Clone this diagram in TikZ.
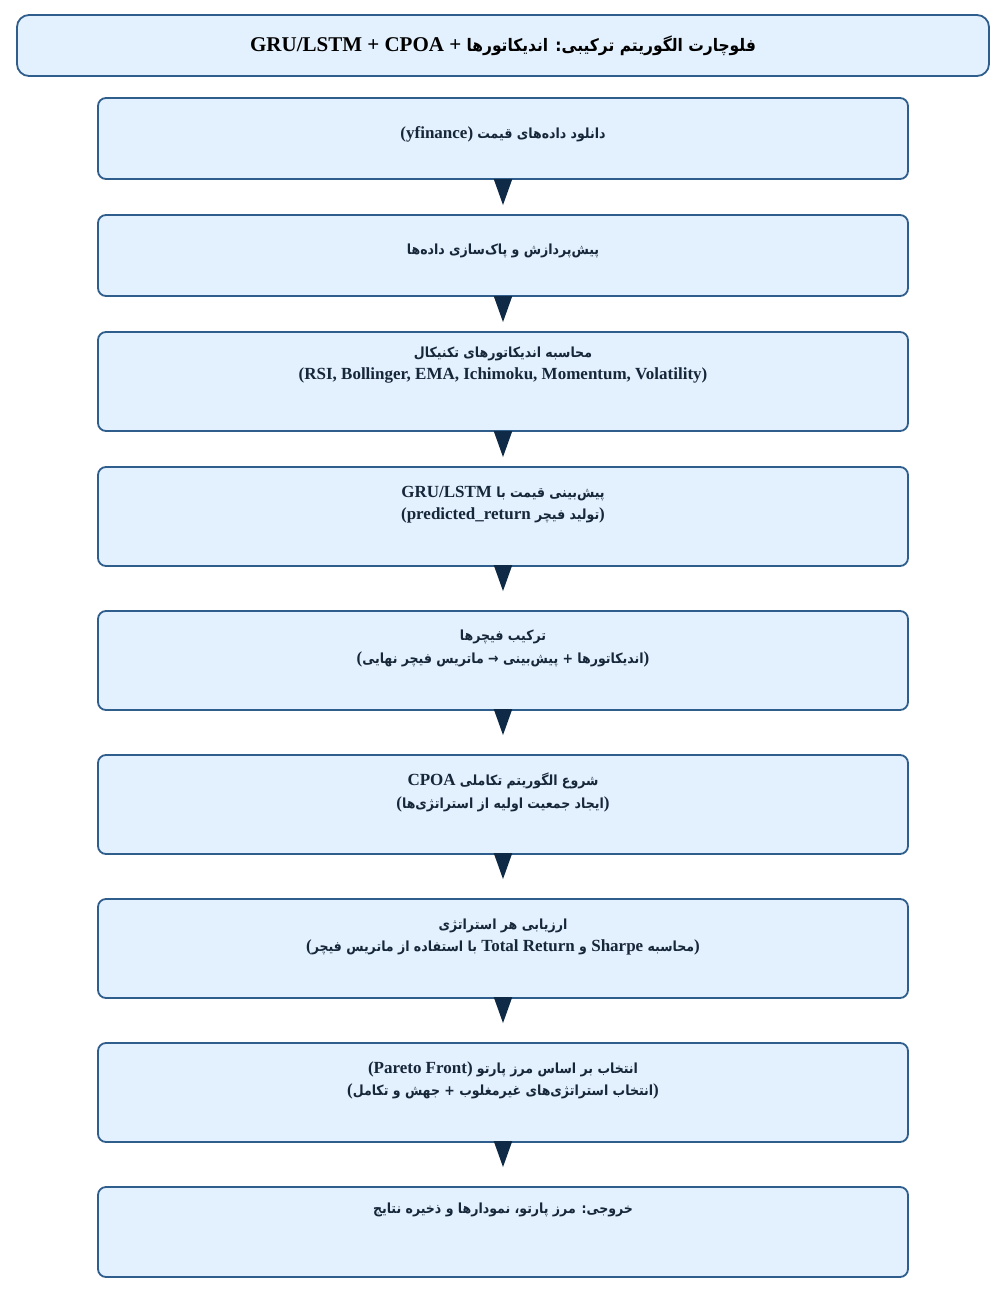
\documentclass[tikz,border=0pt]{standalone}
\usepackage{fontspec}
\setmainfont{Liberation Serif}
\newfontfamily\farsifont[Script=Arabic,Scale=0.82]{DejaVu Sans Condensed}
\TeXXeTstate=1
\usetikzlibrary{arrows.meta}

\definecolor{boxfill}{HTML}{E3F0FD}
\definecolor{boxline}{HTML}{2F5D8C}
\definecolor{boxtext}{HTML}{17273A}
\definecolor{arrowcol}{HTML}{0E2A47}

% persian run (right to left) and latin run inside it
\newcommand{\fa}[1]{{\farsifont\beginR #1\endR}}
\newcommand{\en}[1]{\beginL{\rmfamily #1}\endL}

\begin{document}
\begin{tikzpicture}[x=1pt,y=-1pt,
    stepbox/.style={rectangle,rounded corners=8pt,draw=boxline,fill=boxfill,line width=1.8pt,minimum width=810pt,inner sep=0pt},
    boxlabel/.style={align=center,text=boxtext,font=\bfseries\fontsize{17}{22.5}\selectfont,inner sep=0pt},
    flow/.style={-{Triangle[width=18pt,length=26pt]},line width=2pt,draw=arrowcol,fill=arrowcol,shorten >=9pt}]

    \useasboundingbox (0,0) rectangle (1002,1296);

    % title
    \node (title) at (503,45.5) [stepbox,minimum width=972pt,minimum height=61pt,rounded corners=12pt] {};
    \node (title-txt) at (503,46) [boxlabel,text=black,font=\bfseries\fontsize{21}{25}\selectfont]
        {GRU/LSTM + CPOA + \fa{فلوچارت الگوریتم ترکیبی: اندیکاتورها}};

    % boxes
    \node (dl) at (503,138.5) [stepbox,minimum height=81pt] {};
    \node (prep) at (503,255.5) [stepbox,minimum height=81pt] {};
    \node (ind) at (503,381.5) [stepbox,minimum height=99pt] {};
    \node (pred) at (503,516.5) [stepbox,minimum height=99pt] {};
    \node (feat) at (503,660.5) [stepbox,minimum height=99pt] {};
    \node (cpoa) at (503,804.5) [stepbox,minimum height=99pt] {};
    \node (eval) at (503,948.5) [stepbox,minimum height=99pt] {};
    \node (pareto) at (503,1092.5) [stepbox,minimum height=99pt] {};
    \node (out) at (503,1232) [stepbox,minimum height=90pt] {};

    % texts
    \node (dl-txt) at (503,134) [boxlabel] {(yfinance) \fa{دانلود داده‌های قیمت}};
    \node (prep-txt) at (503,251) [boxlabel] {\fa{پیش‌پردازش و پاک‌سازی داده‌ها}};
    \node (ind-txt) at (503,365) [boxlabel]
        {\fa{محاسبه اندیکاتورهای تکنیکال}\\(RSI, Bollinger, EMA, Ichimoku, Momentum, Volatility)};
    \node (pred-txt) at (503,504.5) [boxlabel]
        {GRU/LSTM \fa{پیش‌بینی قیمت با}\\(predicted\_return \fa{تولید فیچر})};
    \node (feat-txt) at (503,648.5) [boxlabel]
        {\fa{ترکیب فیچرها}\\(\fa{اندیکاتورها + پیش‌بینی → ماتریس فیچر نهایی})};
    \node (cpoa-txt) at (503,792.5) [boxlabel]
        {CPOA \fa{شروع الگوریتم تکاملی}\\(\fa{ایجاد جمعیت اولیه از استراتژی‌ها})};
    \node (eval-txt) at (503,937) [boxlabel]
        {\fa{ارزیابی هر استراتژی}\\(\fa{محاسبه \en{Sharpe} و \en{Total Return} با استفاده از ماتریس فیچر})};
    \node (pareto-txt) at (503,1080.5) [boxlabel]
        {(Pareto Front) \fa{انتخاب بر اساس مرز پارتو}\\(\fa{انتخاب استراتژی‌های غیرمغلوب + جهش و تکامل})};
    \node (out-txt) at (503,1210) [boxlabel] {\fa{خروجی: مرز پارتو، نمودارها و ذخیره نتایج}};

    % arrows
    \draw[flow] (dl) -- (prep);
    \draw[flow] (prep) -- (ind);
    \draw[flow] (ind) -- (pred);
    \draw[flow,shorten >=19pt] (pred) -- (feat);
    \draw[flow,shorten >=19pt] (feat) -- (cpoa);
    \draw[flow,shorten >=19pt] (cpoa) -- (eval);
    \draw[flow,shorten >=19pt] (eval) -- (pareto);
    \draw[flow,shorten >=19pt] (pareto) -- (out);

\end{tikzpicture}
\end{document}
